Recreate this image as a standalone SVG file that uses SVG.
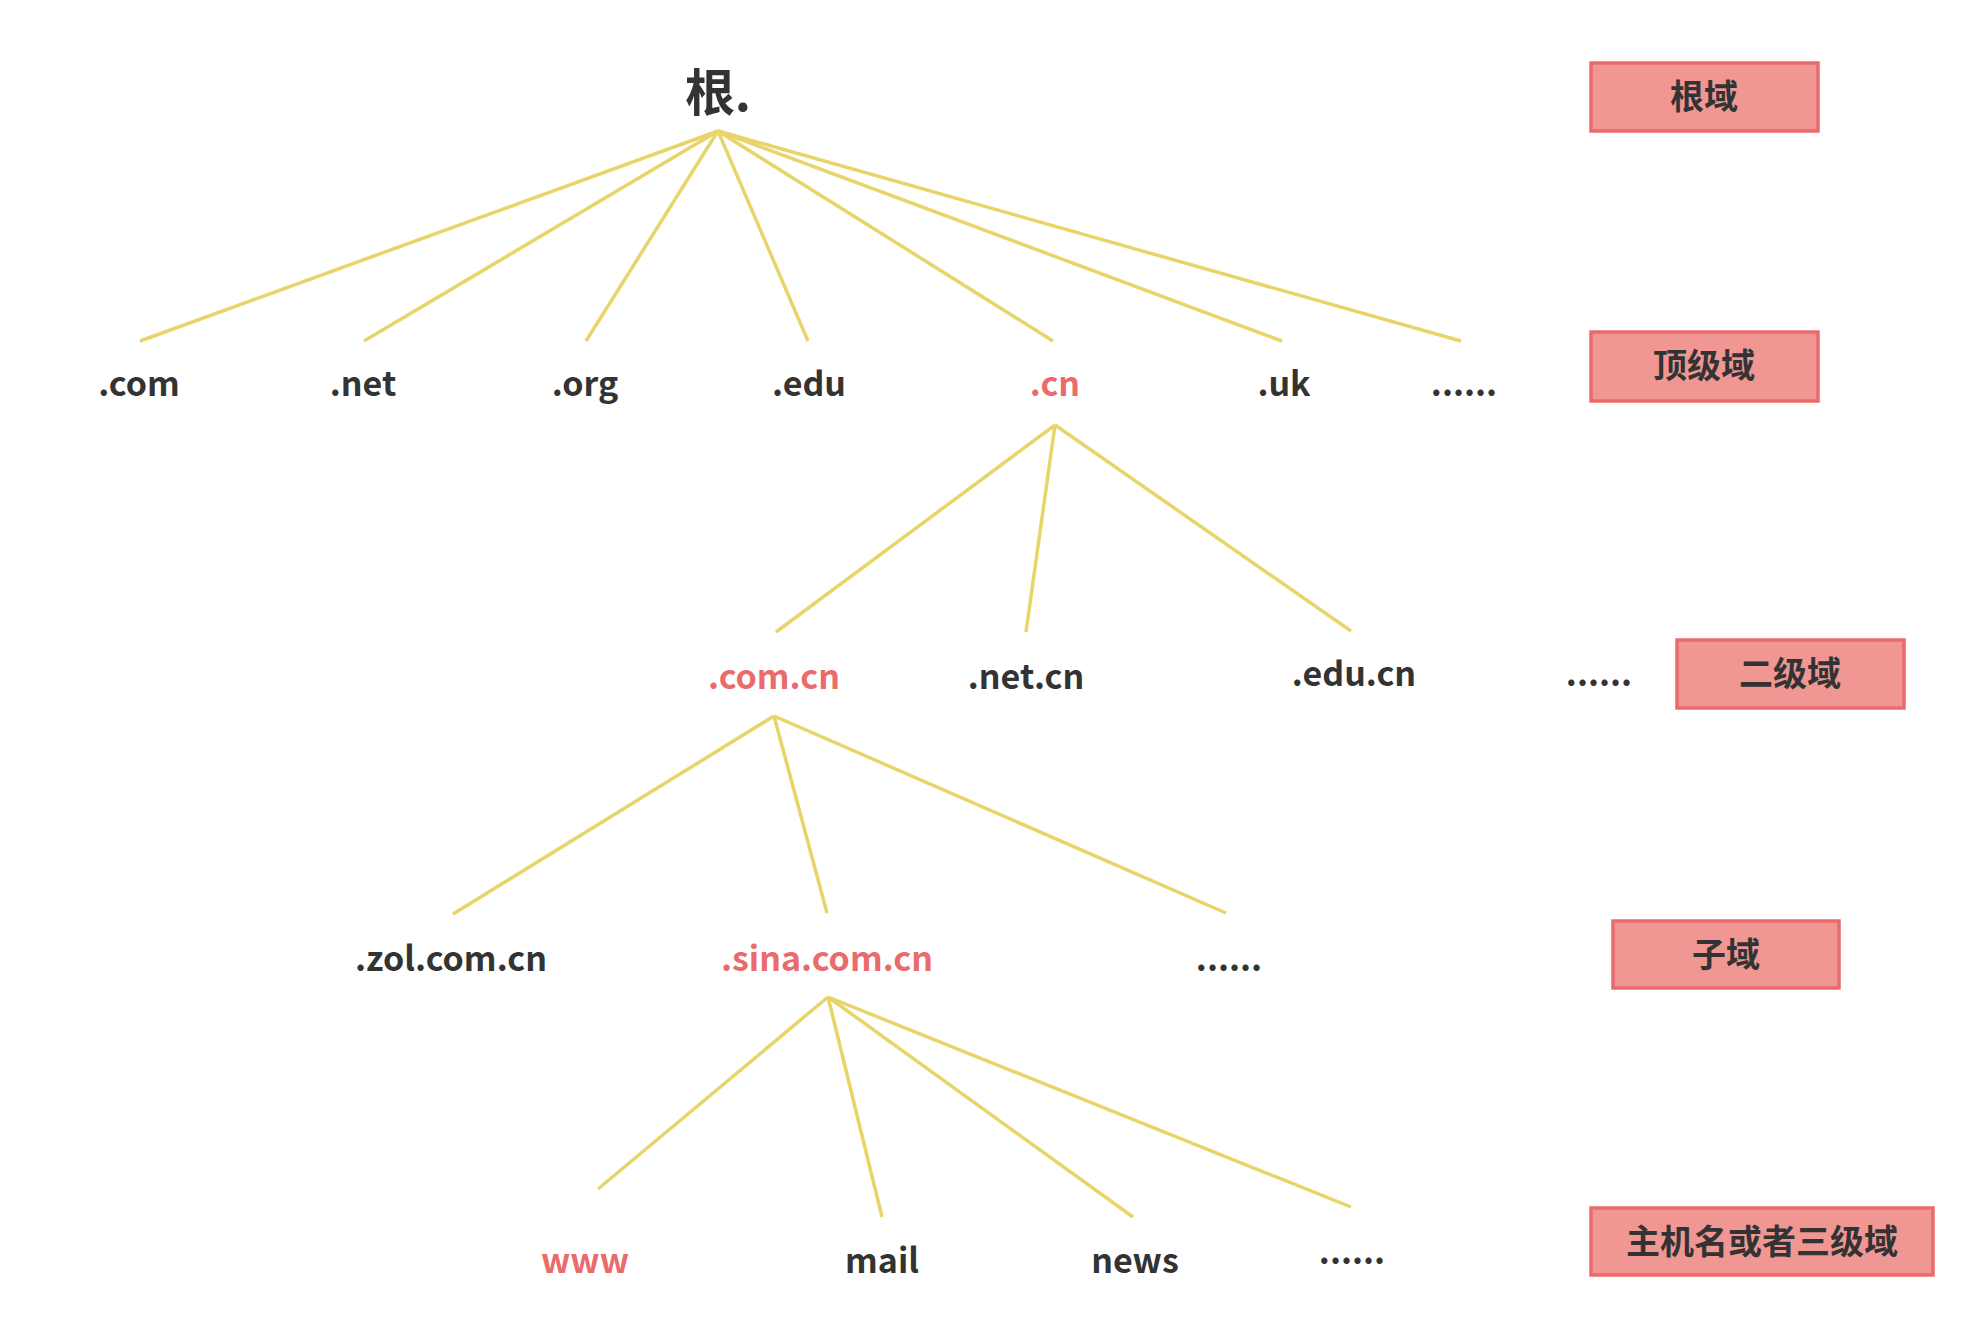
<svg xmlns="http://www.w3.org/2000/svg" width="1972" height="1343" viewBox="0 0 1972 1343">
<style>
text{font-family:"Noto Sans CJK SC","Open Sans","Liberation Sans",sans-serif;font-weight:bold;text-anchor:middle;fill:#333}
.r{fill:#EA6B6B}
.t{font-size:34px}
.box{fill:#F09794;stroke:#EA6B6B;stroke-width:3.5}
#connectors line{stroke:#E8D56A;stroke-width:3.5}
</style>
<rect width="1972" height="1343" fill="#fff"/>
<g id="connectors">
<line x1="718" y1="131" x2="140" y2="341"/>
<line x1="718" y1="131" x2="364" y2="341"/>
<line x1="718" y1="131" x2="586" y2="341"/>
<line x1="718" y1="131" x2="808" y2="341"/>
<line x1="718" y1="131" x2="1053" y2="341"/>
<line x1="718" y1="131" x2="1282" y2="341"/>
<line x1="718" y1="131" x2="1461" y2="341"/>
<line x1="1055" y1="425" x2="776" y2="632"/>
<line x1="1055" y1="425" x2="1026" y2="632"/>
<line x1="1055" y1="425" x2="1351" y2="631"/>
<line x1="774" y1="716" x2="453" y2="914"/>
<line x1="774" y1="716" x2="827" y2="913"/>
<line x1="774" y1="716" x2="1226" y2="913"/>
<line x1="828" y1="997" x2="598" y2="1189"/>
<line x1="828" y1="997" x2="882" y2="1217"/>
<line x1="828" y1="997" x2="1133" y2="1217"/>
<line x1="828" y1="997" x2="1351" y2="1207"/>
</g>
<g id="root"><text x="718" y="111" font-size="50">根.</text></g>
<g id="com"><text class="t" x="139" y="396">.com</text></g>
<g id="net"><text class="t" x="363" y="396">.net</text></g>
<g id="org"><text class="t" x="585" y="396">.org</text></g>
<g id="edu"><text class="t" x="809" y="396">.edu</text></g>
<g id="cn"><text class="t r" x="1055" y="396">.cn</text></g>
<g id="uk"><text class="t" x="1284" y="396">.uk</text></g>
<g id="tld-more"><text class="t" x="1464" y="396">......</text></g>
<g id="comcn"><text class="t r" x="774" y="689">.com.cn</text></g>
<g id="netcn"><text class="t" x="1026" y="689">.net.cn</text></g>
<g id="educn"><text class="t" x="1354" y="686">.edu.cn</text></g>
<g id="sld-more"><text class="t" x="1599" y="686">......</text></g>
<g id="zol"><text class="t" x="451" y="971">.zol.com.cn</text></g>
<g id="sina"><text class="t r" x="827" y="971">.sina.com.cn</text></g>
<g id="sub-more"><text class="t" x="1229" y="971">......</text></g>
<g id="www"><text class="t r" x="585" y="1273">www</text></g>
<g id="mail"><text class="t" x="882" y="1273">mail</text></g>
<g id="news"><text class="t" x="1135" y="1273">news</text></g>
<g id="host-more"><text class="t" x="1352" y="1264">......</text></g>
<g id="label-root"><rect class="box" x="1591" y="63" width="227" height="68"/><text class="t" x="1704" y="109">根域</text></g>
<g id="label-tld"><rect class="box" x="1591" y="332" width="227" height="69"/><text class="t" x="1704" y="378">顶级域</text></g>
<g id="label-sld"><rect class="box" x="1677" y="640" width="227" height="68"/><text class="t" x="1790" y="686">二级域</text></g>
<g id="label-sub"><rect class="box" x="1613" y="921" width="226" height="67"/><text class="t" x="1726" y="967">子域</text></g>
<g id="label-host"><rect class="box" x="1591" y="1208" width="342" height="67"/><text class="t" x="1762" y="1254">主机名或者三级域</text></g>
</svg>
